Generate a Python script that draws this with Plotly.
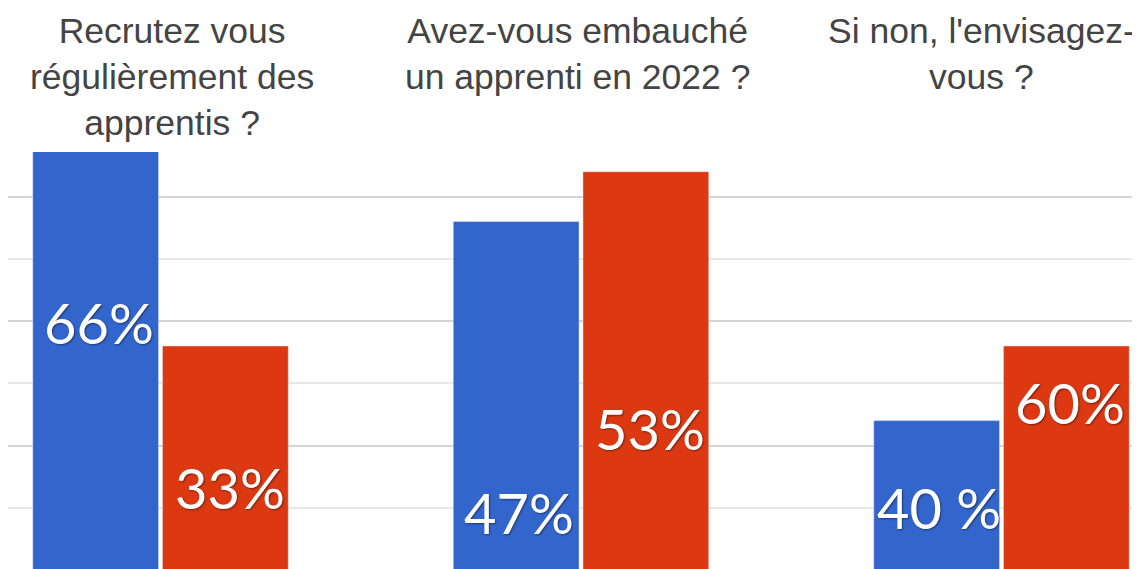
import plotly.graph_objects as go

categories = ["Recrutez vous<br>régulièrement des<br>apprentis ?",
              "Avez-vous embauché<br>un apprenti en 2022 ?",
              "Si non, l'envisagez-<br>vous ?"]
oui = [18, 14, 6]
non = [9, 16, 9]
oui_labels = ["66%", "47%", "40 %"]
non_labels = ["33%", "53%", "60%"]

# where the percentage boxes sit (y in axis units)
oui_label_y = [9.95, 2.3, 2.52]
non_label_y = [3.3, 5.7, 6.74]

BLUE = "#3366cc"
RED = "#dc3912"

fig = go.Figure()
fig.add_trace(go.Bar(x=categories, y=oui, marker_color=BLUE, name="Oui"))
fig.add_trace(go.Bar(x=categories, y=non, marker_color=RED, name="Non"))

label_font = dict(family="Lato", size=56, color="white",
                  shadow="1px 1px 2px rgba(0,0,0,0.45)")
for i, cat in enumerate(categories):
    fig.add_annotation(x=cat, y=oui_label_y[i], text=oui_labels[i], showarrow=False,
                       xshift=-62, yanchor="middle", font=label_font)
    fig.add_annotation(x=cat, y=non_label_y[i], text=non_labels[i], showarrow=False,
                       xshift=69, yanchor="middle", font=label_font)

# question texts above the bars
title_shift = [11, -4, -20]
for i, cat in enumerate(categories):
    fig.add_annotation(x=cat, y=1.343, yref="paper", text=cat, showarrow=False,
                       xshift=title_shift[i], yanchor="top", align="center",
                       font=dict(family="Liberation Sans", size=35.5, color="#444444"))

# page body keeps its 8px margin, so the figure is 8px smaller than the window
fig.update_layout(
    width=1132, height=561,
    margin=dict(l=0, r=0, t=143.5, b=0),
    plot_bgcolor="white", paper_bgcolor="white",
    showlegend=False,
    bargap=0.383, bargroupgap=0.03,
)
fig.update_xaxes(range=[-0.3627, 2.3294], showticklabels=False, ticks="",
                 showline=True, linecolor="#c8c8c8", linewidth=2)
fig.update_yaxes(range=[0.04, 16.79], dtick=5, showticklabels=False, zeroline=False,
                 gridcolor="#d4d4d4", gridwidth=2,
                 minor=dict(dtick=2.5, showgrid=True, gridcolor="#e8e8e8", gridwidth=2))

fig.write_html("out.html")
